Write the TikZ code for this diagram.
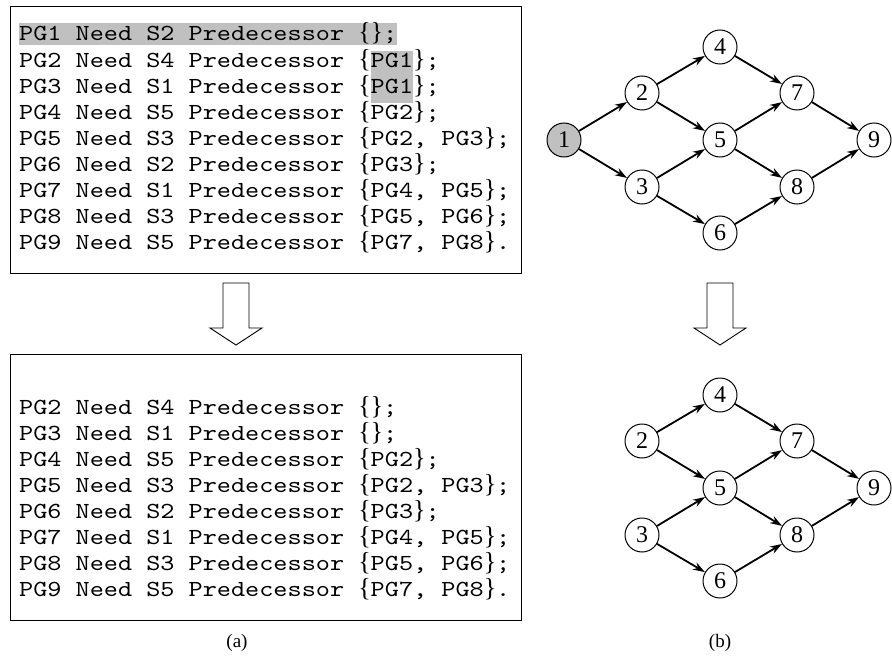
\documentclass[tikz,border=0pt]{standalone}
\usepackage{fontspec}
\setmainfont{Liberation Serif}
\newfontfamily\codefont{lmmono10-regular}[Extension=.otf, FakeStretch=1.17]
\usetikzlibrary{arrows.meta}

\definecolor{hlgray}{RGB}{192,192,192}
% braces are set in the serif face, a little larger than the code text
\newcommand\lb{{\rmfamily\fontsize{26}{26}\selectfont\{}}
\newcommand\rb{{\rmfamily\fontsize{26}{26}\selectfont\}}}
% shaded run of text: a whole line, or a single entry inside the braces
\newcommand\hlline[1]{{\setlength\fboxsep{0pt}\colorbox{hlgray}{\rule[-4pt]{0pt}{20pt}#1}}}
\newcommand\hlcell[1]{{\setlength\fboxsep{0pt}\colorbox{hlgray}{\rule[-10pt]{0pt}{26pt}#1}}}

\tikzset{
  frame/.style={draw=black, line width=1pt},
  codeline/.style={anchor=base west, inner sep=0pt, font=\codefont\fontsize{23}{26}\selectfont},
  vertex/.style={circle, draw=black, line width=1pt, minimum size=34pt, inner sep=0pt,
                 font=\fontsize{24}{24}\selectfont},
  start/.style={vertex, fill=hlgray},
  dep/.style={line width=1.8pt, -{Stealth[length=12pt,width=8pt]}},
  bigarrow/.style={draw=black, line width=0.9pt, fill=white},
  caption/.style={font=\fontsize{19}{19}\selectfont}
}

\begin{document}
\begin{tikzpicture}[x=1pt, y=-1pt]
\useasboundingbox (0,0) rectangle (892,661);

% ---------- (a) task lists ----------
\draw[frame] (10,7) rectangle (521,273);
\draw[frame] (10,354) rectangle (521,620);

\node[codeline] (a1) at (19,41)  {\hlline{PG1 Need S2 Predecessor \lb\rb;}};
\node[codeline] (a2) at (19,67)  {PG2 Need S4 Predecessor \lb\hlcell{PG1}\rb;};
\node[codeline] (a3) at (19,93)  {PG3 Need S1 Predecessor \lb\hlcell{PG1}\rb;};
\node[codeline] (a4) at (19,119) {PG4 Need S5 Predecessor \lb PG2\rb;};
\node[codeline] (a5) at (19,145) {PG5 Need S3 Predecessor \lb PG2, PG3\rb;};
\node[codeline] (a6) at (19,171) {PG6 Need S2 Predecessor \lb PG3\rb;};
\node[codeline] (a7) at (19,197) {PG7 Need S1 Predecessor \lb PG4, PG5\rb;};
\node[codeline] (a8) at (19,223) {PG8 Need S3 Predecessor \lb PG5, PG6\rb;};
\node[codeline] (a9) at (19,249) {PG9 Need S5 Predecessor \lb PG7, PG8\rb.};

\node[codeline] (b2) at (19,414) {PG2 Need S4 Predecessor \lb\rb;};
\node[codeline] (b3) at (19,440) {PG3 Need S1 Predecessor \lb\rb;};
\node[codeline] (b4) at (19,466) {PG4 Need S5 Predecessor \lb PG2\rb;};
\node[codeline] (b5) at (19,492) {PG5 Need S3 Predecessor \lb PG2, PG3\rb;};
\node[codeline] (b6) at (19,518) {PG6 Need S2 Predecessor \lb PG3\rb;};
\node[codeline] (b7) at (19,544) {PG7 Need S1 Predecessor \lb PG4, PG5\rb;};
\node[codeline] (b8) at (19,570) {PG8 Need S3 Predecessor \lb PG5, PG6\rb;};
\node[codeline] (b9) at (19,596) {PG9 Need S5 Predecessor \lb PG7, PG8\rb.};

% hollow transition arrows
\draw[bigarrow] (223,283) -- (249,283) -- (249,328) -- (262,328) -- (236,345)
                -- (210,328) -- (223,328) -- cycle;
\draw[bigarrow] (707,283) -- (733,283) -- (733,328) -- (746,328) -- (720,345)
                -- (694,328) -- (707,328) -- cycle;

% ---------- (b) precedence graphs ----------
\node[start]  (t1) at (564,140) {1};
\node[vertex] (t2) at (642,93)  {2};
\node[vertex] (t3) at (642,187) {3};
\node[vertex] (t4) at (720,47)  {4};
\node[vertex] (t5) at (720,140) {5};
\node[vertex] (t6) at (720,233) {6};
\node[vertex] (t7) at (797,93)  {7};
\node[vertex] (t8) at (797,187) {8};
\node[vertex] (t9) at (874,140) {9};

\foreach \u/\v in {t1/t2, t1/t3, t2/t4, t2/t5, t3/t5, t3/t6,
                   t4/t7, t5/t7, t5/t8, t6/t8, t7/t9, t8/t9}
  \draw[dep] (\u) -- (\v);

\node[vertex] (u2) at (642,441) {2};
\node[vertex] (u3) at (642,535) {3};
\node[vertex] (u4) at (720,395) {4};
\node[vertex] (u5) at (720,488) {5};
\node[vertex] (u6) at (720,581) {6};
\node[vertex] (u7) at (797,441) {7};
\node[vertex] (u8) at (797,535) {8};
\node[vertex] (u9) at (874,488) {9};

\foreach \u/\v in {u2/u4, u2/u5, u3/u5, u3/u6,
                   u4/u7, u5/u7, u5/u8, u6/u8, u7/u9, u8/u9}
  \draw[dep] (\u) -- (\v);

% captions
\node[caption] (capa) at (237,643) {(a)};
\node[caption] (capb) at (720,643) {(b)};
\end{tikzpicture}
\end{document}
